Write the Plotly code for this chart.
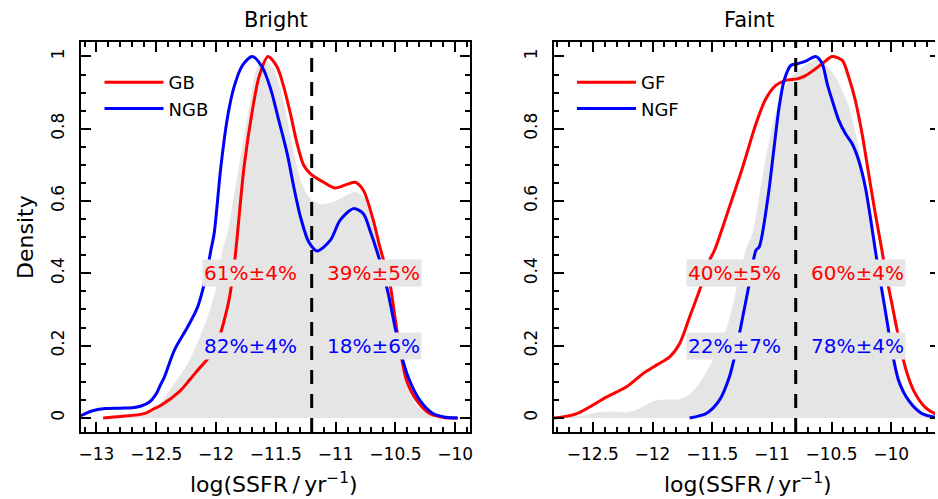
import plotly.graph_objects as go

# ---------------- data ----------------
# Bright sample: normalised SSFR densities
bright_all_x = [-12.96, -12.80, -12.60, -12.487, -12.349, -12.25, -12.18, -12.07, -11.987, -11.946,
                -11.904, -11.808, -11.71, -11.655, -11.60, -11.53, -11.46, -11.405, -11.35, -11.294,
                -11.225, -11.128, -11.017, -10.906, -10.837, -10.768, -10.698, -10.643, -10.58, -10.53,
                -10.48, -10.43, -10.37, -10.30, -10.20, -10.05]
bright_all_y = [0.0, 0.003, 0.009, 0.03, 0.095, 0.141, 0.187, 0.279, 0.372, 0.464,
                0.51, 0.694, 0.878, 0.970, 0.991, 0.970, 0.906, 0.823, 0.731, 0.657,
                0.611, 0.591, 0.597, 0.616, 0.625, 0.611, 0.547, 0.473, 0.36, 0.27,
                0.19, 0.12, 0.06, 0.025, 0.008, 0.0]

bright_gb_x = [-12.944, -12.80, -12.60, -12.515, -12.46, -12.30, -12.224, -12.154, -12.016, -11.904,
               -11.85, -11.766, -11.696, -11.641, -11.566, -11.488, -11.433, -11.378, -11.322, -11.267,
               -11.205, -11.10, -11.003, -10.906, -10.837, -10.768, -10.685, -10.63, -10.546, -10.504,
               -10.46, -10.407, -10.324, -10.213, -10.07, -9.98]
bright_gb_y = [0.0, 0.004, 0.012, 0.026, 0.035, 0.075, 0.104, 0.132, 0.187, 0.307,
               0.417, 0.694, 0.851, 0.943, 1.0, 0.970, 0.915, 0.842, 0.759, 0.699,
               0.674, 0.652, 0.636, 0.646, 0.652, 0.63, 0.547, 0.473, 0.372, 0.279,
               0.187, 0.104, 0.049, 0.012, 0.0, 0.0]

bright_ngb_x = [-13.13, -13.04, -12.93, -12.80, -12.70, -12.626, -12.557, -12.50, -12.46, -12.432,
                -12.349, -12.237, -12.154, -12.085, -12.043, -12.016, -11.96, -11.904, -11.85, -11.78,
                -11.696, -11.613, -11.544, -11.475, -11.405, -11.35, -11.294, -11.225, -11.155, -11.045,
                -10.962, -10.851, -10.768, -10.713, -10.657, -10.615, -10.56, -10.504, -10.46, -10.393,
                -10.296, -10.186, -10.08, -9.98]
bright_ngb_y = [0.006, 0.019, 0.026, 0.027, 0.028, 0.033, 0.044, 0.067, 0.095, 0.113,
                0.187, 0.252, 0.307, 0.39, 0.464, 0.51, 0.694, 0.832, 0.915, 0.975,
                1.0, 0.970, 0.911, 0.823, 0.731, 0.639, 0.556, 0.487, 0.462, 0.491,
                0.547, 0.579, 0.565, 0.519, 0.464, 0.417, 0.344, 0.252, 0.187, 0.113,
                0.049, 0.012, 0.002, 0.0]

# Faint sample
faint_all_x = [-12.83, -12.60, -12.45, -12.35, -12.20, -12.08, -12.0, -11.90, -11.80, -11.72,
               -11.606, -11.494, -11.383, -11.328, -11.272, -11.217, -11.161, -11.078, -11.008, -10.953,
               -10.88, -10.80, -10.72, -10.64, -10.60, -10.53, -10.467, -10.356, -10.286, -10.217,
               -10.161, -10.106, -10.05, -9.994, -9.939, -9.856, -9.717, -9.55]
faint_all_y = [0.0, 0.005, 0.015, 0.017, 0.015, 0.03, 0.045, 0.05, 0.05, 0.058,
               0.095, 0.16, 0.243, 0.307, 0.39, 0.464, 0.51, 0.666, 0.786, 0.86,
               0.92, 0.955, 0.975, 0.99, 0.993, 0.97, 0.943, 0.86, 0.768, 0.639,
               0.51, 0.417, 0.307, 0.206, 0.123, 0.058, 0.012, 0.0]

faint_gf_x = [-12.90, -12.823, -12.633, -12.383, -12.217, -12.078, -11.967, -11.856, -11.772, -11.689,
              -11.606, -11.522, -11.48, -11.356, -11.244, -11.133, -11.05, -10.967, -10.883, -10.786,
              -10.717, -10.633, -10.564, -10.494, -10.41, -10.356, -10.30, -10.244, -10.189, -10.133,
              -10.078, -10.05, -9.994, -9.939, -9.883, -9.814, -9.717, -9.633, -9.55]
faint_gf_y = [0.0, 0.0, 0.012, 0.058, 0.086, 0.123, 0.146, 0.169, 0.206, 0.279,
              0.353, 0.436, 0.464, 0.583, 0.694, 0.814, 0.883, 0.92, 0.934, 0.938,
              0.947, 0.966, 0.984, 1.0, 0.989, 0.943, 0.878, 0.786, 0.676, 0.565,
              0.464, 0.408, 0.316, 0.224, 0.141, 0.077, 0.03, 0.012, 0.004]

faint_ngf_x = [-11.689, -11.55, -11.439, -11.356, -11.30, -11.244, -11.189, -11.133, -11.106, -11.036,
               -10.981, -10.939, -10.897, -10.842, -10.786, -10.717, -10.633, -10.578, -10.536, -10.494,
               -10.439, -10.383, -10.328, -10.272, -10.217, -10.175, -10.133, -10.106, -10.05, -9.994,
               -9.939, -9.856, -9.744, -9.633, -9.55]
faint_ngf_y = [0.0, 0.012, 0.049, 0.113, 0.187, 0.279, 0.372, 0.464, 0.473, 0.602,
               0.749, 0.860, 0.934, 0.975, 0.980, 0.987, 1.0, 0.980, 0.924, 0.878,
               0.823, 0.786, 0.759, 0.712, 0.639, 0.556, 0.464, 0.408, 0.298, 0.187,
               0.104, 0.049, 0.012, 0.002, 0.0]

# SSFR cuts and fractions (percent, error) on each side of the cut
bright_cut = -11.2
faint_cut = -10.8
bright_gb_frac = [61, 39]
bright_gb_err = [4, 5]
bright_ngb_frac = [82, 18]
bright_ngb_err = [4, 6]
faint_gf_frac = [40, 60]
faint_gf_err = [5, 4]
faint_ngf_frac = [22, 78]
faint_ngf_err = [7, 4]

panel_titles = ["Bright", "Faint"]
bright_names = ["GB", "NGB"]
faint_names = ["GF", "NGF"]

# ---------------- styling ----------------
FONT = "DejaVu Sans"
RED = "#FF0000"
BLUE = "#0000FF"
GREY = "#E5E5E5"
W, H = 938, 499

fig = go.Figure()


def add_panel(xa, ya, all_x, all_y, a_x, a_y, b_x, b_y, names, legend):
    fig.add_trace(go.Scatter(x=all_x, y=all_y, mode="lines", fill="tozeroy",
                             fillcolor=GREY, line=dict(color=GREY, width=0.5, shape="spline", smoothing=0.8),
                             showlegend=False, hoverinfo="skip", xaxis=xa, yaxis=ya))
    fig.add_trace(go.Scatter(x=a_x, y=a_y, mode="lines", name=names[0], legend=legend,
                             line=dict(color=RED, width=3, shape="spline", smoothing=0.8),
                             xaxis=xa, yaxis=ya))
    fig.add_trace(go.Scatter(x=b_x, y=b_y, mode="lines", name=names[1], legend=legend,
                             line=dict(color=BLUE, width=3, shape="spline", smoothing=0.8),
                             xaxis=xa, yaxis=ya))


add_panel("x", "y", bright_all_x, bright_all_y, bright_gb_x, bright_gb_y,
          bright_ngb_x, bright_ngb_y, bright_names, "legend")
add_panel("x2", "y2", faint_all_x, faint_all_y, faint_gf_x, faint_gf_y,
          faint_ngf_x, faint_ngf_y, faint_names, "legend2")

# carrier trace for the tick-only axis on the right edge of the Faint panel
fig.add_trace(go.Scatter(x=[None], y=[None], mode="lines", showlegend=False,
                         hoverinfo="skip", xaxis="x2", yaxis="y3"))

# dashed SSFR cuts
for xr, cut in (("x", bright_cut), ("x2", faint_cut)):
    fig.add_shape(type="line", xref=xr, yref=xr.replace("x", "y") + " domain",
                  x0=cut, x1=cut, y0=0, y1=1,
                  line=dict(color="black", width=3, dash="14px,10px"))

# fraction labels
def add_labels(xr, yr, cut, frac, err, colour, yval):
    for side, (f, e) in enumerate(zip(frac, err)):
        fig.add_annotation(x=cut, y=yval, xref=xr, yref=yr,
                           text=f"{f}%±{e}%", showarrow=False,
                           xanchor="right" if side == 0 else "left",
                           xshift=-13 if side == 0 else 13,
                           bgcolor=GREY, borderpad=1,
                           font=dict(family=FONT, size=20, color=colour))


add_labels("x", "y", bright_cut, bright_gb_frac, bright_gb_err, RED, 0.4)
add_labels("x", "y", bright_cut, bright_ngb_frac, bright_ngb_err, BLUE, 0.2)
add_labels("x2", "y2", faint_cut, faint_gf_frac, faint_gf_err, RED, 0.4)
add_labels("x2", "y2", faint_cut, faint_ngf_frac, faint_ngf_err, BLUE, 0.2)

# panel titles and axis titles
xtitle = "log(SSFR\u2009/\u2009yr<sup>\u22121</sup>)"
for xr, title, cx in (("x", panel_titles[0], 0.5), ("x2", panel_titles[1], 0.512)):
    fig.add_annotation(text=title, xref=xr + " domain", x=cx, yref="paper", y=(H - 20) / H,
                       showarrow=False, yanchor="middle",
                       font=dict(family=FONT, size=21, color="black"))
    fig.add_annotation(text=xtitle, xref=xr + " domain", x=cx - 0.004, yref="paper", y=(H - 483) / H,
                       showarrow=False, yanchor="middle",
                       font=dict(family=FONT, size=22, color="black"))
fig.add_annotation(text="Density", textangle=-90, xref="paper", x=23 / W,
                   yref="y domain", y=0.5, showarrow=False, xanchor="center", yanchor="middle",
                   font=dict(family=FONT, size=22, color="black"))

# ---------------- axes ----------------
ydom = [(H - 432) / H, (H - 42) / H]
yrange = [-0.039, 1.04]
tickfont = dict(family=FONT, size=17, color="black")


def xaxis_cfg(domain, rng, tick0):
    return dict(domain=domain, range=rng, tick0=tick0, dtick=0.5, ticks="inside",
                ticklen=10, tickwidth=1.5, tickcolor="black", showline=True, linewidth=2,
                linecolor="black", mirror="ticks", showgrid=False, zeroline=False,
                tickfont=tickfont, ticklabelstandoff=6,
                minor=dict(dtick=0.1, tick0=tick0, ticks="inside", ticklen=5, tickwidth=1.5,
                           tickcolor="black", showgrid=False))


def yaxis_cfg(anchor, mirror):
    return dict(domain=ydom, range=yrange, anchor=anchor, tick0=0, dtick=0.2, ticks="inside",
                ticklen=10, tickwidth=1.5, tickcolor="black", showline=True, linewidth=2,
                linecolor="black", mirror=mirror, showgrid=False, zeroline=False,
                tickangle=-90, tickfont=tickfont, ticklabelstandoff=8,
                minor=dict(dtick=0.05, tick0=0, ticks="inside", ticklen=5, tickwidth=1.5,
                           tickcolor="black", showgrid=False))


legend_style = dict(xanchor="left", yanchor="top", bgcolor="rgba(0,0,0,0)", borderwidth=0,
                    itemwidth=59, font=dict(family=FONT, size=18, color="black"),
                    tracegroupgap=0)

fig.update_layout(
    width=W, height=H,
    margin=dict(l=0, r=0, t=0, b=0),
    paper_bgcolor="white", plot_bgcolor="white",
    xaxis=xaxis_cfg([79 / W, 471 / W], [-13.133, -9.872], -13),
    yaxis=yaxis_cfg("x", "ticks"),
    xaxis2=xaxis_cfg([555 / W, 1.0], [-12.825, -9.633], -12.5),
    yaxis2=yaxis_cfg("x2", False),
    yaxis3=dict(overlaying="y2", side="right", anchor="free", position=1.0,
                range=yrange, tick0=0, dtick=0.2, ticks="inside", ticklen=5, tickwidth=1.5,
                tickcolor="black", showline=False, showgrid=False, zeroline=False,
                showticklabels=False),
    legend=dict(x=98 / W, y=(H - 64) / H, **legend_style),
    legend2=dict(x=573 / W, y=(H - 64) / H, **legend_style),
    showlegend=True,
)

fig.write_html("out.html")
